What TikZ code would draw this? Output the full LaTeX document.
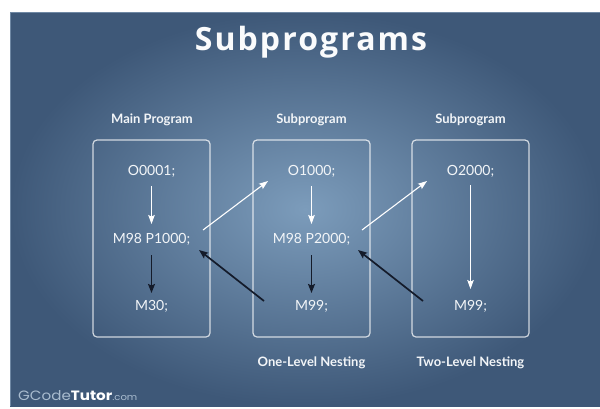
\documentclass[tikz,border=0pt]{standalone}
\usepackage{fontspec}
\setmainfont{Lato}
\newfontfamily\logofont{Poppins}
\newfontfamily\titlefont[LetterSpace=6.5]{Open Sans}
\usetikzlibrary{arrows.meta,calc}
\definecolor{bgin}{HTML}{7C9CBB}
\definecolor{bgout}{HTML}{3E5878}
\definecolor{bgline}{HTML}{6F88A4}
\definecolor{txt}{HTML}{F2F5F8}
\definecolor{darkarr}{HTML}{141B2A}
\definecolor{logogray}{HTML}{A9BCCF}
\tikzset{
  lab/.style={text=txt, font=\fontsize{13}{15}\selectfont\bfseries, anchor=base, inner sep=0pt},
  code/.style={text=txt, font=\fontsize{14}{16}\selectfont, anchor=base, inner sep=0pt},
  prog/.style={draw=white, draw opacity=0.75, line width=1.2pt, rounded corners=4pt,
    minimum width=117pt, minimum height=197pt, inner sep=0pt},
  warr/.style={draw=white, line width=1.1pt, -{Stealth[length=9pt,width=6.5pt,inset=1.5pt]}},
  barr/.style={draw=darkarr, line width=1.7pt, -{Stealth[length=9pt,width=7pt,inset=1.5pt]}}
}
\begin{document}
\begin{tikzpicture}[x=1pt,y=-1pt]
\useasboundingbox (0,0) rectangle (600,408);
\fill[white] (0,0) rectangle (600,408);
\shade[inner color=bgin, outer color=bgout] (10,12) rectangle (600,406);
\draw[bgline, line width=0.8pt] (10.4,12.4) -- (599.6,12.4);
\draw[bgline, line width=0.8pt] (10.4,12.4) -- (10.4,406);

\node[text=white!96!bgin, font=\titlefont\fontsize{32}{36}\selectfont\bfseries, anchor=base, inner sep=0pt] (title) at (311,50) {Subprograms};

\node[lab] (l1) at (152,123) {Main Program};
\node[lab] (l2) at (311.5,123) {Subprogram};
\node[lab] (l3) at (470.5,123) {Subprogram};

\node[prog] (b1) at (151.5,238.5) {};
\node[prog] (b2) at (311.5,238.5) {};
\node[prog] (b3) at (470.5,238.5) {};

\node[lab] (n1) at (311.5,366) {One-Level Nesting};
\node[lab] (n2) at (470.5,366) {Two-Level Nesting};

\node[code] (a1) at (151.5,175) {O0001;};
\node[code] (a2) at (151.5,243) {M98 P1000;};
\node[code] (a3) at (151.5,310) {M30;};
\node[code] (c1) at (311.5,175) {O1000;};
\node[code] (c2) at (311.5,243) {M98 P2000;};
\node[code] (c3) at (311.5,310) {M99;};
\node[code] (e1) at (470.5,175) {O2000;};
\node[code] (e2) at (470.5,310) {M99;};

% vertical arrows
\draw[warr] ($(a1.base)+(0,11)$) -- ($(a2.base)+(0,-19)$);
\draw[barr] ($(a2.base)+(0,12)$) -- ($(a3.base)+(0,-17)$);
\draw[warr] ($(c1.base)+(0,11)$) -- ($(c2.base)+(0,-19)$);
\draw[barr] ($(c2.base)+(0,12)$) -- ($(c3.base)+(0,-17)$);
\draw[warr] ($(e1.base)+(0,10)$) -- ($(e2.base)+(0,-21)$);

% diagonal arrows
\draw[warr] ($(a2.base)+(51.5,-13)$) -- ($(c1.base)+(-43.5,6)$);
\draw[barr] ($(c3.base)+(-47.5,-9)$) -- ($(a2.base)+(47.5,7)$);
\draw[warr] ($(c2.base)+(50.5,-13)$) -- ($(e1.base)+(-43.5,6)$);
\draw[barr] ($(e2.base)+(-47.5,-9)$) -- ($(c2.base)+(46.5,7)$);

\node[anchor=base west, inner sep=0pt, xscale=1.12] (logo) at (18,400)
  {\logofont\fontsize{13.5}{15}\selectfont\textcolor{logogray}{GCode}\textcolor{white}{\bfseries Tutor}\textcolor{logogray}{\fontsize{9}{10}\selectfont.com}};
\end{tikzpicture}
\end{document}
